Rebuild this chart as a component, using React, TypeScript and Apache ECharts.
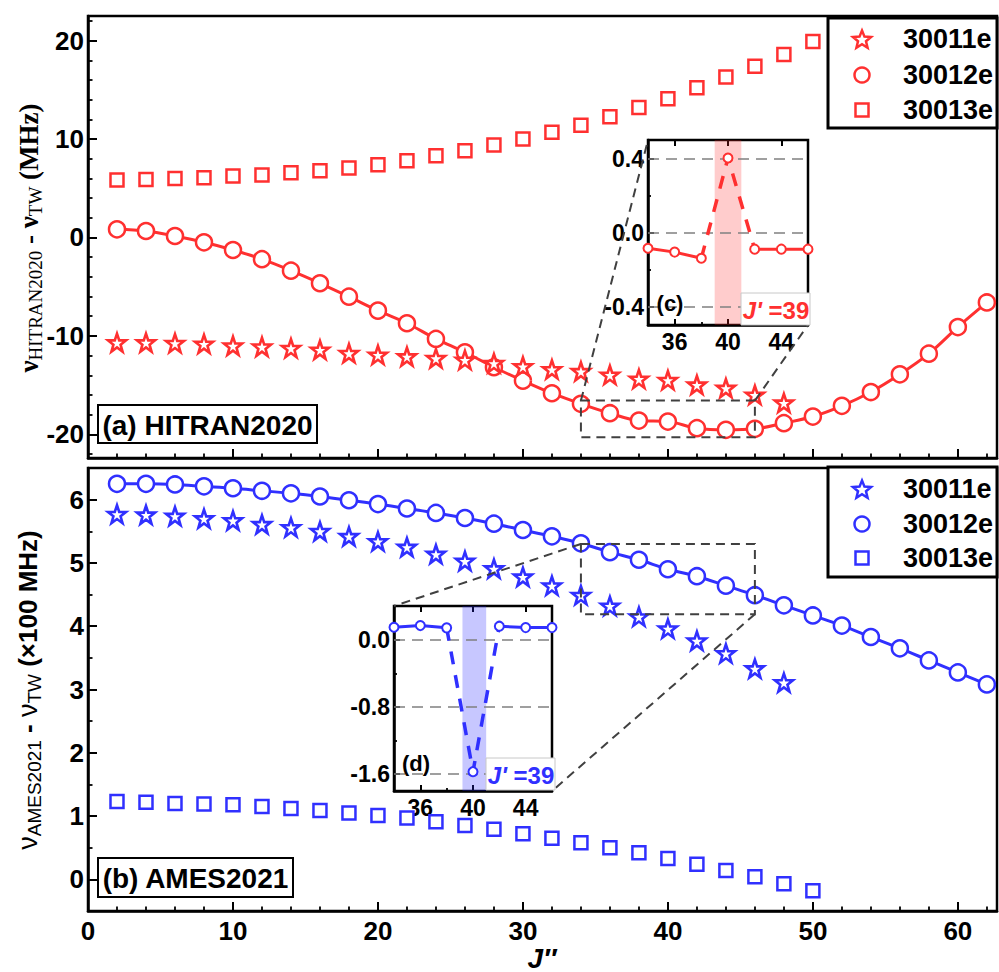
import React, { useEffect, useRef } from 'react';
import * as echarts from 'echarts';

// ---------------- data ----------------
const jCircle = [2, 4, 6, 8, 10, 12, 14, 16, 18, 20, 22, 24, 26, 28, 30, 32, 34, 36, 38, 40, 42, 44, 46, 48, 50, 52, 54, 56, 58, 60, 62];
const jStar = [2, 4, 6, 8, 10, 12, 14, 16, 18, 20, 22, 24, 26, 28, 30, 32, 34, 36, 38, 40, 42, 44, 46, 48];
const jSquare = [2, 4, 6, 8, 10, 12, 14, 16, 18, 20, 22, 24, 26, 28, 30, 32, 34, 36, 38, 40, 42, 44, 46, 48, 50];

// (a) HITRAN2020 (MHz)
const topStar = [-10.68, -10.68, -10.74, -10.81, -11.0, -11.1, -11.25, -11.42, -11.76, -11.93, -12.1, -12.27, -12.44, -12.77, -13.1, -13.4, -13.6, -13.96, -14.37, -14.5, -14.97, -15.3, -16.0, -16.8];
const topCircle = [0.83, 0.66, 0.15, -0.49, -1.27, -2.2, -3.37, -4.65, -6.01, -7.43, -8.71, -10.3, -11.66, -13.18, -14.54, -15.82, -16.9, -17.85, -18.6, -18.7, -19.37, -19.54, -19.44, -18.86, -18.19, -17.1, -15.7, -13.9, -11.8, -9.1, -6.6];
const topSquare = [5.84, 5.9, 6.0, 6.07, 6.24, 6.35, 6.58, 6.78, 7.05, 7.4, 7.8, 8.3, 8.8, 9.4, 10.0, 10.7, 11.4, 12.26, 13.2, 14.1, 15.2, 16.3, 17.4, 18.6, 19.9];

// (b) AMES2021 (x100 MHz)
const botStar = [5.77, 5.76, 5.74, 5.7, 5.67, 5.61, 5.56, 5.5, 5.42, 5.34, 5.25, 5.14, 5.03, 4.91, 4.78, 4.64, 4.49, 4.32, 4.15, 3.96, 3.77, 3.57, 3.33, 3.11];
const botCircle = [6.25, 6.25, 6.24, 6.21, 6.18, 6.14, 6.1, 6.05, 5.99, 5.93, 5.86, 5.79, 5.71, 5.62, 5.52, 5.42, 5.31, 5.17, 5.05, 4.9, 4.79, 4.64, 4.49, 4.33, 4.17, 4.01, 3.83, 3.65, 3.46, 3.27, 3.08];
const botSquare = [1.23, 1.22, 1.2, 1.19, 1.18, 1.15, 1.12, 1.09, 1.05, 1.01, 0.97, 0.91, 0.85, 0.79, 0.72, 0.65, 0.58, 0.5, 0.42, 0.33, 0.24, 0.14, 0.04, -0.07, -0.18];

// insets (residuals of 30012e)
const insetJ = [34, 36, 38, 40, 42, 44, 46];
const insetC = [-0.085, -0.106, -0.139, 0.403, -0.09, -0.09, -0.09];
const insetD = [0.147, 0.167, 0.14, -1.57, 0.16, 0.143, 0.143];
const anomalyJ = 40;
const bandC = [39, 41];
const bandD = [39.2, 41];

// zoom windows on the main panels
const zoomJ = [34, 46];
const topZoomY = [-20.28, -16.57];
const botZoomY = [4.19, 5.3];

// ticks
const xMajor = [0, 10, 20, 30, 40, 50, 60];
const topYMajor = [-20, -10, 0, 10, 20];
const botYMajor = [0, 1, 2, 3, 4, 5, 6];
const insetXMajor = [36, 40, 44];
const insetCYMajor = [-0.4, 0.0, 0.4];
const insetDYMajor = [-1.6, -0.8, 0.0];

const legendNames = ['30011e', '30012e', '30013e'];

// ---------------- styles ----------------
const RED = '#ff3030';
const BLUE = '#3030ff';
const SANS = '"Liberation Sans", Arial, sans-serif';
const SERIF = '"Liberation Serif", "Times New Roman", serif';
const STAR = 'path://M50,2 L61.8,35.5 L97.6,35.5 L68.9,56.9 L79.4,91 L50,70.4 L20.6,91 L31.1,56.9 L2.4,35.5 L38.2,35.5 Z';

const range = (a: number, b: number, s: number) => {
  const r: number[] = [];
  for (let v = a; v <= b + 1e-9; v += s) r.push(+v.toFixed(4));
  return r;
};
const minorsOf = (a: number, b: number, s: number, majors: number[]) =>
  range(a, b, s).filter((v) => !majors.some((m) => Math.abs(m - v) < 1e-6));

const pairs = (xs: number[], ys: number[]) => xs.map((x, i) => [x, ys[i]]);

function axisPair(o: any) {
  const common = {
    type: 'value',
    gridIndex: o.grid,
    min: o.min,
    max: o.max,
    position: o.position,
    splitLine: { show: false },
  };
  const main = {
    ...common,
    axisLine: { show: o.line !== false, onZero: false, lineStyle: { color: '#000', width: 2.5 } },
    axisTick: { show: true, inside: true, length: o.tickLen, customValues: o.majors, lineStyle: { color: '#000', width: 2 } },
    axisLabel: {
      show: !!o.labels,
      customValues: o.majors,
      margin: o.margin,
      color: '#000',
      fontFamily: SANS,
      fontWeight: 'bold',
      fontSize: o.fontSize,
      formatter: o.fmt ? (v: number) => o.fmt(v) : (v: number) => String(v),
    },
  };
  const minor = {
    ...common,
    axisLine: { show: false, onZero: false },
    axisTick: { show: true, inside: true, length: o.tickLen / 2, customValues: o.minors, lineStyle: { color: '#000', width: 1.8 } },
    axisLabel: { show: false },
  };
  return [main, minor];
}

function hollow(name: string, data: any[], xi: number, yi: number, symbol: string, size: number, color: string, bw: number, z: number) {
  return {
    type: 'scatter',
    name,
    xAxisIndex: xi,
    yAxisIndex: yi,
    data,
    symbol,
    symbolSize: size,
    itemStyle: { color: '#fff', borderColor: color, borderWidth: bw, opacity: 1 },
    z,
    silent: true,
  };
}

function mainSeries(xi: number, yi: number, color: string, star: number[], circle: number[], square: number[]) {
  return [
    {
      type: 'line',
      xAxisIndex: xi,
      yAxisIndex: yi,
      data: pairs(jCircle, circle),
      smooth: 0.35,
      symbol: 'none',
      lineStyle: { color, width: 3 },
      z: 2,
      silent: true,
    },
    hollow('30012e', pairs(jCircle, circle), xi, yi, 'circle', 16, color, 2.5, 3),
    hollow('30013e', pairs(jSquare, square), xi, yi, 'rect', 13, color, 2.5, 3),
    hollow('30011e', pairs(jStar, star), xi, yi, STAR, 18, color, 2.6, 4),
  ];
}

function insetSeries(xi: number, yi: number, color: string, band: string, vals: number[], bandX: number[], grids: number[]) {
  const solid = insetJ.map((j, i) => (j === anomalyJ ? [j, '-'] : [j, vals[i]]));
  const dashed = insetJ.map((j, i) => [j, vals[i]]).filter((p) => Math.abs(p[0] - anomalyJ) <= 2);
  return [
    {
      type: 'line',
      xAxisIndex: xi,
      yAxisIndex: yi,
      data: solid,
      symbol: 'none',
      connectNulls: false,
      lineStyle: { color, width: 3 },
      z: 5,
      silent: true,
      markArea: {
        silent: true,
        z: 4,
        itemStyle: { color: band },
        data: [[{ xAxis: bandX[0] }, { xAxis: bandX[1] }]],
      },
      markLine: {
        silent: true,
        z: 4,
        symbol: 'none',
        label: { show: false },
        lineStyle: { color: '#808080', type: [11, 7], width: 1.6 },
        data: grids.map((g) => ({ yAxis: g })),
      },
    },
    {
      type: 'line',
      xAxisIndex: xi,
      yAxisIndex: yi,
      data: dashed,
      symbol: 'none',
      lineStyle: { color, width: 3.5, type: [13, 11] },
      z: 5,
      silent: true,
    },
    hollow('res', pairs(insetJ, vals), xi, yi, 'circle', 9, color, 2, 6),
  ];
}

function buildOption() {
  const grids = [
    { left: 88, top: 16, width: 909, height: 442, show: true, borderColor: '#000', borderWidth: 2.5, backgroundColor: 'transparent' },
    { left: 88, top: 468, width: 909, height: 443, show: true, borderColor: '#000', borderWidth: 2.5, backgroundColor: 'transparent' },
    { left: 648, top: 140, width: 160, height: 185, show: true, borderColor: '#000', borderWidth: 2.5, backgroundColor: '#fff' },
    { left: 394, top: 606, width: 158, height: 185, show: true, borderColor: '#000', borderWidth: 2.5, backgroundColor: '#fff' },
  ];
  const xMin = 0, xMax = 62.7;
  const xMinor = minorsOf(2, 62, 2, xMajor);
  const xAxes = [
    ...axisPair({ grid: 0, min: xMin, max: xMax, position: 'bottom', majors: xMajor, minors: xMinor, labels: false, tickLen: 9 }),
    ...axisPair({ grid: 1, min: xMin, max: xMax, position: 'bottom', majors: xMajor, minors: xMinor, labels: true, fontSize: 26, margin: 7, tickLen: 9 }),
    ...axisPair({ grid: 2, min: 34, max: 46, position: 'bottom', majors: insetXMajor, minors: [38, 42], labels: true, fontSize: 23, margin: 5, tickLen: 6 }),
    axisPair({ grid: 2, min: 34, max: 46, position: 'top', majors: insetXMajor, minors: [], labels: false, tickLen: 6, line: false })[0],
    ...axisPair({ grid: 3, min: 34, max: 46, position: 'bottom', majors: insetXMajor, minors: [38, 42], labels: true, fontSize: 23, margin: 5, tickLen: 6 }),
    axisPair({ grid: 3, min: 34, max: 46, position: 'top', majors: insetXMajor, minors: [], labels: false, tickLen: 6, line: false })[0],
  ];
  const yAxes = [
    ...axisPair({ grid: 0, min: -22.4, max: 22.5, position: 'left', majors: topYMajor, minors: minorsOf(-22, 22, 2, topYMajor), labels: true, fontSize: 26, margin: 4, tickLen: 9 }),
    ...axisPair({ grid: 1, min: -0.5, max: 6.5, position: 'left', majors: botYMajor, minors: minorsOf(0.5, 6, 0.5, botYMajor), labels: true, fontSize: 26, margin: 4, tickLen: 9 }),
    ...axisPair({ grid: 2, min: -0.5, max: 0.5, position: 'left', majors: insetCYMajor, minors: [-0.2, 0.2], labels: true, fontSize: 23, margin: 4, tickLen: 6, fmt: (v: number) => v.toFixed(1) }),
    ...axisPair({ grid: 3, min: -1.8, max: 0.4, position: 'left', majors: insetDYMajor, minors: [-1.2, -0.4, 0.4], labels: true, fontSize: 23, margin: 4, tickLen: 6, fmt: (v: number) => v.toFixed(1) }),
  ];
  // x indices: 0 main-top,1 minor,2 main-bot,3 minor,4 c,5 c-minor,6 c-top,7 d,8 d-minor,9 d-top
  // y indices: 0 top,1 minor,2 bot,3 minor,4 c,5 c-minor,6 d,7 d-minor
  const series = [
    ...mainSeries(0, 0, RED, topStar, topCircle, topSquare),
    ...mainSeries(2, 2, BLUE, botStar, botCircle, botSquare),
    ...insetSeries(4, 4, RED, 'rgba(255,40,40,0.24)', insetC, bandC, insetCYMajor),
    ...insetSeries(7, 6, BLUE, 'rgba(40,40,255,0.26)', insetD, bandD, insetDYMajor),
  ];
  return {
    animation: false,
    backgroundColor: '#fff',
    grid: grids,
    xAxis: xAxes,
    yAxis: yAxes,
    series,
  };
}

function starPts(cx: number, cy: number, R: number, r: number) {
  const pts: number[][] = [];
  for (let i = 0; i < 10; i++) {
    const a = -Math.PI / 2 + (i * Math.PI) / 5;
    const rad = i % 2 ? r : R;
    pts.push([cx + rad * Math.cos(a), cy + rad * Math.sin(a)]);
  }
  return pts;
}

function legend(x: number, y: number, h: number, color: string, rows: number[]) {
  const els: any[] = [
    { type: 'rect', z: 100, shape: { x, y, width: 997 - x, height: h }, style: { fill: '#fff', stroke: '#000', lineWidth: 3 } },
  ];
  const sx = 862;
  els.push({ type: 'polygon', z: 101, shape: { points: starPts(sx, rows[0] + 1, 9.5, 4.2) }, style: { fill: '#fff', stroke: color, lineWidth: 2.5 } });
  els.push({ type: 'circle', z: 101, shape: { cx: sx, cy: rows[1], r: 7.5 }, style: { fill: '#fff', stroke: color, lineWidth: 2.5 } });
  els.push({ type: 'rect', z: 101, shape: { x: sx - 6.5, y: rows[2] - 6.5, width: 13, height: 13 }, style: { fill: '#fff', stroke: color, lineWidth: 2.5 } });
  legendNames.forEach((n, i) => {
    els.push({ type: 'text', z: 101, x: 903, y: rows[i], style: { text: n, fill: '#000', fontFamily: SANS, fontWeight: 'bold', fontSize: 27, align: 'left', verticalAlign: 'middle' } });
  });
  return els;
}

function boxLabel(x: number, y: number, w: number, h: number, text: string) {
  return [
    { type: 'rect', z: 100, shape: { x, y, width: w, height: h }, style: { fill: '#fff', stroke: '#000', lineWidth: 2 } },
    { type: 'text', z: 101, x: x + w / 2, y: y + h / 2 + 1, style: { text, fill: '#000', fontFamily: SANS, fontWeight: 'bold', fontSize: 28, align: 'center', verticalAlign: 'middle' } },
  ];
}

function jBox(x: number, y: number, color: string) {
  return [
    { type: 'rect', z: 100, shape: { x, y, width: 69, height: 32 }, style: { fill: '#fff', stroke: '#c8c8c8', lineWidth: 1 } },
    {
      type: 'text', z: 101, x: x + 35, y: y + 17,
      style: {
        text: "{i|J'}{b| =39}",
        align: 'center', verticalAlign: 'middle',
        rich: {
          i: { fill: color, fontFamily: SANS, fontWeight: 'bold', fontStyle: 'italic', fontSize: 24 },
          b: { fill: color, fontFamily: SANS, fontWeight: 'bold', fontSize: 24 },
        },
      },
    },
  ];
}

function buildGraphics(chart: any) {
  const px = (xi: number, yi: number, p: number[]) => chart.convertToPixel({ xAxisIndex: xi, yAxisIndex: yi }, p);
  const dash = { stroke: '#404040', lineWidth: 2, lineDash: [9, 6], fill: 'none' };
  const els: any[] = [];

  // zoom rectangles + connectors
  const tA = px(0, 0, [zoomJ[0], topZoomY[1]]);
  const tB = px(0, 0, [zoomJ[1], topZoomY[0]]);
  els.push({ type: 'rect', z: 50, shape: { x: tA[0], y: tA[1], width: tB[0] - tA[0], height: tB[1] - tA[1] }, style: { ...dash } });
  const cTL = px(4, 4, [34, 0.5]);
  const cBR = px(4, 4, [46, -0.5]);
  els.push({ type: 'line', z: 50, shape: { x1: tA[0], y1: tA[1], x2: cTL[0], y2: cTL[1] }, style: { ...dash } });
  els.push({ type: 'line', z: 50, shape: { x1: tB[0], y1: tA[1], x2: cBR[0], y2: cBR[1] }, style: { ...dash } });

  const bA = px(2, 2, [zoomJ[0], botZoomY[1]]);
  const bB = px(2, 2, [zoomJ[1], botZoomY[0]]);
  els.push({ type: 'rect', z: 50, shape: { x: bA[0], y: bA[1], width: bB[0] - bA[0], height: bB[1] - bA[1] }, style: { ...dash } });
  const dTL = px(7, 6, [34, 0.4]);
  const dBR = px(7, 6, [46, -1.8]);
  els.push({ type: 'line', z: 50, shape: { x1: bA[0], y1: bA[1], x2: dTL[0], y2: dTL[1] }, style: { ...dash } });
  els.push({ type: 'line', z: 50, shape: { x1: bB[0], y1: bB[1], x2: dBR[0], y2: dBR[1] }, style: { ...dash } });

  // legends
  els.push(...legend(828, 18, 110, RED, [39, 75, 110]));
  els.push(...legend(828, 467, 110, BLUE, [489, 524, 558]));

  // panel labels
  els.push(...boxLabel(98, 405, 219, 38, '(a) HITRAN2020'));
  els.push(...boxLabel(98, 858, 195, 39, '(b) AMES2021'));

  // inset labels
  els.push({ type: 'text', z: 101, x: 670, y: 303, style: { text: '(c)', fill: '#000', fontFamily: SANS, fontWeight: 'bold', fontSize: 22, align: 'center', verticalAlign: 'middle' } });
  els.push({ type: 'text', z: 101, x: 416, y: 763, style: { text: '(d)', fill: '#000', fontFamily: SANS, fontWeight: 'bold', fontSize: 22, align: 'center', verticalAlign: 'middle' } });
  els.push(...jBox(741, 293, RED));
  els.push(...jBox(486, 758, BLUE));

  // axis titles
  els.push({
    type: 'text', z: 101, x: 29, y: 238, rotation: Math.PI / 2,
    style: {
      text: '{n|ν}{s|HITRAN2020}{n| - ν}{s|TW}{n| (MHz)}',
      align: 'center', verticalAlign: 'middle',
      rich: {
        n: { fontFamily: SERIF, fontWeight: 'bold', fontSize: 27, lineHeight: 32, verticalAlign: 'middle', fill: '#000' },
        s: { fontFamily: SERIF, fontWeight: 'normal', fontSize: 19, lineHeight: 16, verticalAlign: 'bottom', fill: '#000' },
      },
    },
  });
  els.push({
    type: 'text', z: 101, x: 28, y: 690, rotation: Math.PI / 2,
    style: {
      text: '{v|ν}{s|AMES2021}{n| - }{v|ν}{s|TW}{n| (×100 MHz)}',
      align: 'center', verticalAlign: 'middle',
      rich: {
        v: { fontFamily: SANS, fontWeight: 'normal', fontSize: 27, lineHeight: 32, verticalAlign: 'middle', fill: '#000' },
        n: { fontFamily: SANS, fontWeight: 'bold', fontSize: 26, lineHeight: 32, verticalAlign: 'middle', fill: '#000' },
        s: { fontFamily: SANS, fontWeight: 'normal', fontSize: 19, lineHeight: 16, verticalAlign: 'bottom', fill: '#000' },
      },
    },
  });
  els.push({
    type: 'text', z: 101, x: 542, y: 958,
    style: { text: 'J″', fill: '#000', fontFamily: SANS, fontWeight: 'bold', fontStyle: 'italic', fontSize: 28, align: 'center', verticalAlign: 'middle' },
  });
  return els;
}

export default function App() {
  const ref = useRef<HTMLDivElement>(null);
  useEffect(() => {
    if (!ref.current) return;
    const chart = echarts.init(ref.current, null, { renderer: 'svg', width: 999, height: 972 });
    chart.setOption(buildOption() as any);
    chart.setOption({ graphic: buildGraphics(chart) } as any);
    return () => chart.dispose();
  }, []);
  return <div ref={ref} style={{ position: 'fixed', left: 0, top: 0, width: 999, height: 972, background: '#fff' }} />;
}
